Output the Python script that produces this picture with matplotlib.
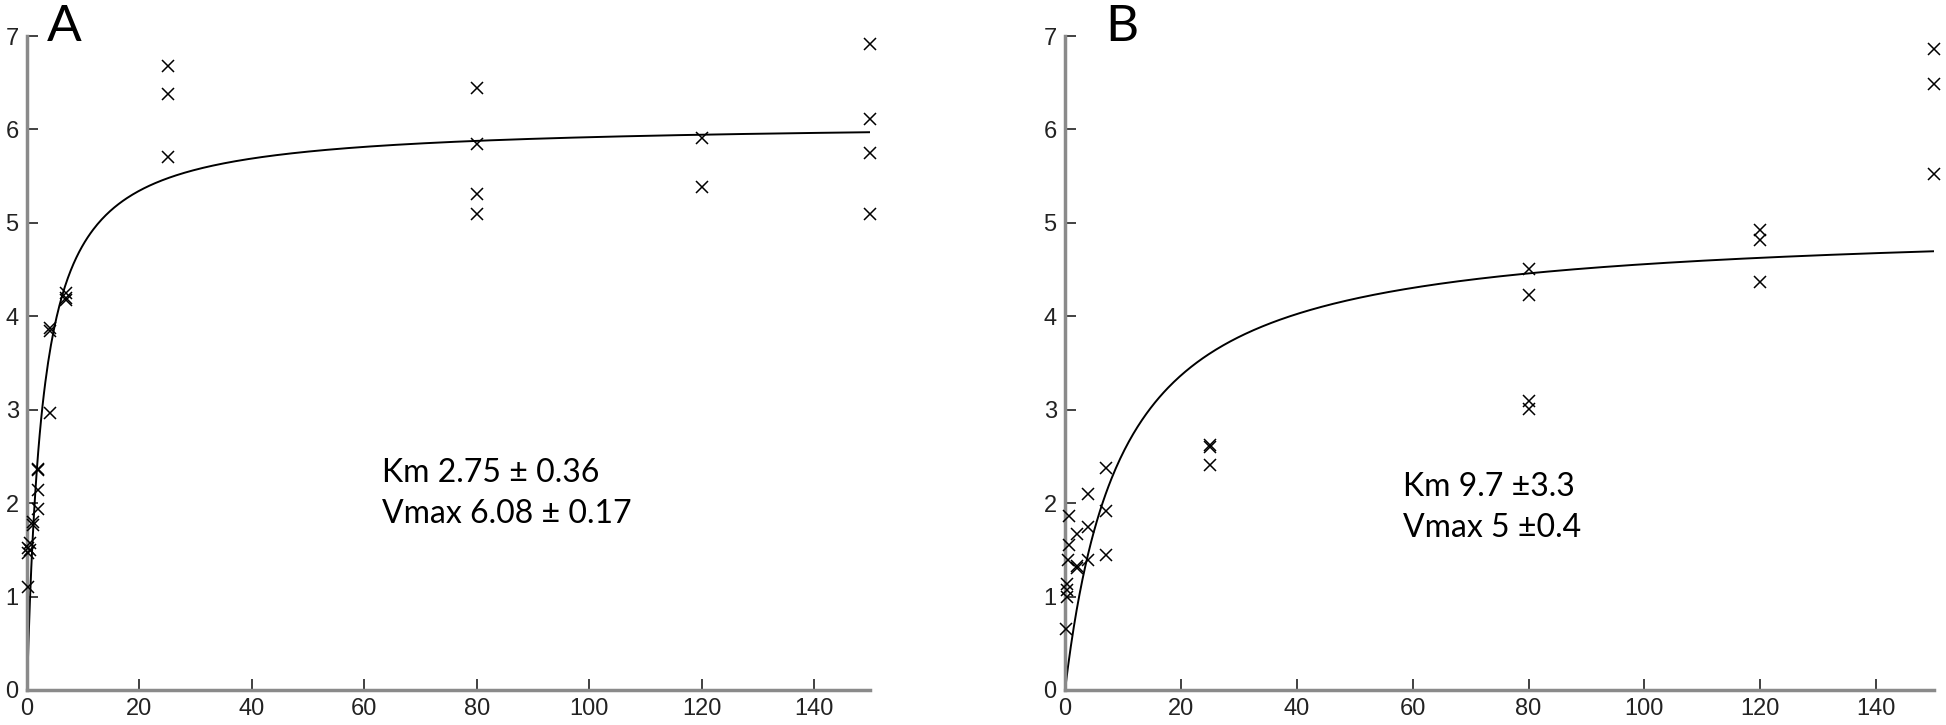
import numpy as np
import matplotlib
matplotlib.use("Agg")
import matplotlib.pyplot as plt

# ---- data ----
a_x = [0.25, 0.25, 0.25, 0.5, 0.5, 1, 1, 2, 2, 2, 2, 4, 4, 4, 7, 7, 7,
       25, 25, 25, 80, 80, 80, 80, 120, 120, 150, 150, 150, 150]
a_y = [1.10, 1.47, 1.52, 1.57, 1.50, 1.77, 1.80, 1.94, 2.14, 2.35, 2.37,
       2.96, 3.84, 3.87, 4.17, 4.20, 4.25,
       5.70, 6.38, 6.68, 5.09, 5.31, 5.84, 6.44, 5.38, 5.91,
       5.09, 5.75, 6.11, 6.92]

b_x = [0.25, 0.3, 0.3, 0.3, 0.5, 0.7, 0.7, 2, 2, 2, 4, 4, 4, 7, 7, 7,
       25, 25, 25, 80, 80, 80, 80, 120, 120, 120, 150, 150, 150]
b_y = [0.65, 1.00, 1.07, 1.13, 1.39, 1.55, 1.86, 1.31, 1.33, 1.67,
       1.39, 1.74, 2.10, 1.45, 1.92, 2.38,
       2.41, 2.60, 2.62, 3.01, 3.09, 4.23, 4.51, 4.37, 4.82, 4.92,
       5.52, 6.49, 6.86]

# fitted Michaelis-Menten parameters (from the annotations)
a_km, a_vmax = 2.75, 6.08
b_km, b_vmax = 9.7, 5.0

a_label = "Km 2.75 \u00b1 0.36\nVmax 6.08 \u00b1 0.17"
b_label = "Km 9.7 \u00b13.3\nVmax 5 \u00b10.4"

x_ticks = [0, 20, 40, 60, 80, 100, 120, 140]
y_ticks = [0, 1, 2, 3, 4, 5, 6, 7]

tick_font = ["Liberation Sans Narrow", "Liberation Sans", "DejaVu Sans"]
text_font = ["Lato", "DejaVu Sans"]

fig = plt.figure(figsize=(19.46, 7.25), dpi=100)
ax_a = fig.add_axes([0.0139, 0.0483, 0.4333, 0.9020])
ax_b = fig.add_axes([0.5473, 0.0483, 0.4466, 0.9020])

# axes, data, fit params, annotation, panel letter, text pos, letter pos
panels = [
    (ax_a, a_x, a_y, a_km, a_vmax, a_label, "A", (63.2, 1.79), (3.6, 6.95)),
    (ax_b, b_x, b_y, b_km, b_vmax, b_label, "B", (58.4, 1.64), (7.0, 6.95)),
]

for ax, xs, ys, km, vmax, label, letter, tpos, lpos in panels:
    s = np.linspace(0, 150, 600)
    ax.plot(s, vmax * s / (km + s), color="black", lw=1.4, zorder=2)
    ax.plot(xs, ys, linestyle="none", marker="x", color="black",
            markersize=9, markeredgewidth=1.1, zorder=3, clip_on=False)

    ax.set_xlim(0, 150)
    ax.set_ylim(0, 7)
    ax.set_xticks(x_ticks)
    ax.set_yticks(y_ticks)
    for side in ("top", "right"):
        ax.spines[side].set_visible(False)
    for side in ("left", "bottom"):
        ax.spines[side].set_color("#8a8a8a")
        ax.spines[side].set_linewidth(2.5)
    ax.tick_params(direction="in", length=8, width=1.3, color="#333333",
                   labelsize=17, pad=6)
    for lab in ax.get_xticklabels() + ax.get_yticklabels():
        lab.set_family(tick_font)
        lab.set_color("#222222")

    ax.text(tpos[0], tpos[1], label, fontsize=23, family=text_font,
            va="baseline", ha="left", linespacing=1.45)
    ax.text(lpos[0], lpos[1], letter, fontsize=37, family=text_font,
            va="baseline", ha="left", clip_on=False)

fig.savefig("out.png", dpi=100)
